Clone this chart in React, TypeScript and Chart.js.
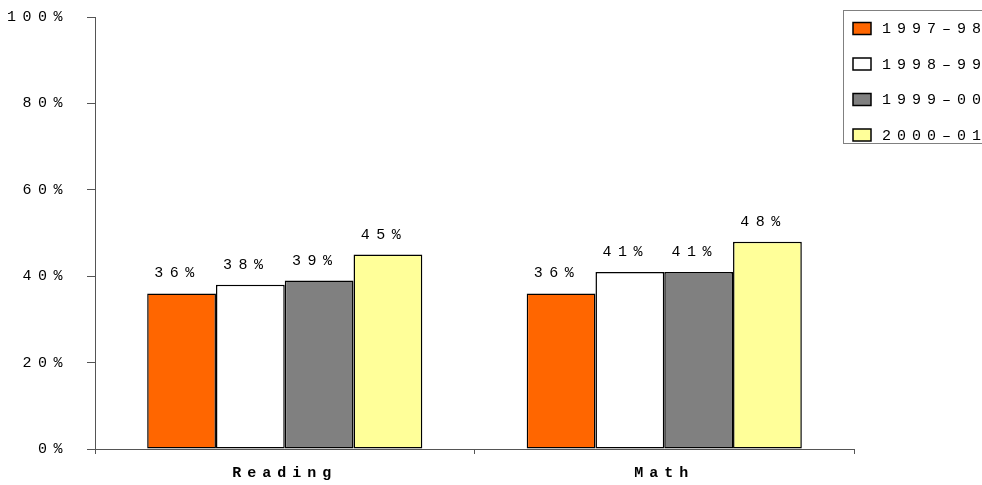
import React, { useEffect, useRef } from 'react';
import { Chart, registerables } from 'chart.js';

Chart.register(...registerables);

const categories = ['Reading', 'Math'];
const seriesLabels = ['1997–98', '1998–99', '1999–00', '2000–01'];
const values1997 = [36, 36];
const values1998 = [38, 41];
const values1999 = [39, 41];
const values2000 = [45, 48];
const seriesColors = ['#FF6600', '#FFFFFF', '#808080', '#FFFF99'];
const yMin = 0;
const yMax = 100;
const yStep = 20;

const TEXT_FONT = '15px "Liberation Mono"';
const AXIS_COLOR = '#555555';

function patchSpacing(scale: any, spacing: string) {
  if (scale.__lsPatched) return;
  const orig = scale.drawLabels;
  scale.drawLabels = function (area: any) {
    const c = this.ctx;
    c.save();
    (c as any).letterSpacing = spacing;
    orig.call(this, area);
    c.restore();
  };
  scale.__lsPatched = true;
}

const valueLabelPlugin = {
  id: 'valueLabels',
  afterDatasetsDraw(chart: any) {
    const ctx = chart.ctx;
    ctx.save();
    ctx.font = TEXT_FONT;
    (ctx as any).letterSpacing = '6.5px';
    ctx.fillStyle = '#000';
    ctx.textAlign = 'center';
    ctx.textBaseline = 'alphabetic';
    chart.data.datasets.forEach((ds: any, di: number) => {
      const meta = chart.getDatasetMeta(di);
      meta.data.forEach((el: any, i: number) => {
        ctx.fillText(ds.data[i] + '%', el.x - 4, el.y - 16);
      });
    });
    ctx.restore();
  },
};

const boxLegendPlugin = {
  id: 'boxLegend',
  afterDraw(chart: any) {
    const ctx = chart.ctx;
    const area = chart.chartArea;
    const left = area.right - 11;
    const top = area.top - 7;
    const rowGap = 35.5;
    ctx.save();
    ctx.fillStyle = '#fff';
    ctx.fillRect(left, top, chart.width - left + 5, 133);
    ctx.strokeStyle = '#808080';
    ctx.lineWidth = 1;
    ctx.strokeRect(left + 0.5, top + 0.5, chart.width - left + 5, 133);
    ctx.font = TEXT_FONT;
    (ctx as any).letterSpacing = '6px';
    ctx.textAlign = 'left';
    ctx.textBaseline = 'middle';
    chart.data.datasets.forEach((ds: any, i: number) => {
      const cy = top + 18.5 + i * rowGap;
      ctx.fillStyle = ds.backgroundColor;
      ctx.fillRect(left + 10, cy - 6, 18, 12);
      ctx.strokeStyle = '#000';
      ctx.lineWidth = 1.5;
      ctx.strokeRect(left + 10, cy - 6, 18, 12);
      ctx.fillStyle = '#000';
      ctx.fillText(ds.label, left + 39, cy + 1);
    });
    ctx.restore();
  },
};

export default function App() {
  const ref = useRef<HTMLCanvasElement | null>(null);

  useEffect(() => {
    if (!ref.current) return;
    const allValues = [values1997, values1998, values1999, values2000];
    const chart = new Chart(ref.current, {
      type: 'bar',
      data: {
        labels: categories,
        datasets: allValues.map((vals, i) => ({
          label: seriesLabels[i],
          data: vals,
          backgroundColor: seriesColors[i],
          borderColor: '#000000',
          borderWidth: 1.5,
          borderSkipped: false,
          barPercentage: 1,
          categoryPercentage: 0.725,
        })),
      },
      options: {
        responsive: false,
        animation: false,
        layout: { padding: { top: 17, right: 128, left: 0, bottom: 0 } },
        plugins: {
          legend: { display: false },
          tooltip: { enabled: false },
        },
        scales: {
          x: {
            offset: true,
            grid: {
              offset: true,
              drawOnChartArea: false,
              tickLength: 5,
              color: AXIS_COLOR,
              tickColor: AXIS_COLOR,
            },
            border: { display: true, color: AXIS_COLOR, width: 1 },
            ticks: {
              color: '#000',
              font: { family: '"Liberation Mono"', size: 15, weight: 'bold' },
              padding: 10,
              maxRotation: 0,
            },
            afterFit(scale: any) {
              scale.height = 36;
              scale.paddingLeft = 0;
              scale.paddingRight = 0;
              patchSpacing(scale, '6px');
            },
          },
          y: {
            min: yMin,
            max: yMax,
            grid: {
              drawOnChartArea: false,
              tickLength: 8,
              color: AXIS_COLOR,
              tickColor: AXIS_COLOR,
            },
            border: { display: true, color: AXIS_COLOR, width: 1 },
            ticks: {
              stepSize: yStep,
              color: '#000',
              font: { family: '"Liberation Mono"', size: 15 },
              padding: 18,
              callback: (v: any) => v + '%',
            },
            afterFit(scale: any) {
              scale.width = 95;
              scale.paddingTop = 0;
              scale.paddingBottom = 0;
              patchSpacing(scale, '6.5px');
            },
          },
        },
      },
      plugins: [valueLabelPlugin, boxLegendPlugin],
    });
    return () => chart.destroy();
  }, []);

  return (
    <div style={{ position: 'fixed', left: 0, top: 0, width: 982, height: 485, background: '#fff' }}>
      <canvas ref={ref} width={982} height={485} style={{ display: 'block' }} />
    </div>
  );
}
